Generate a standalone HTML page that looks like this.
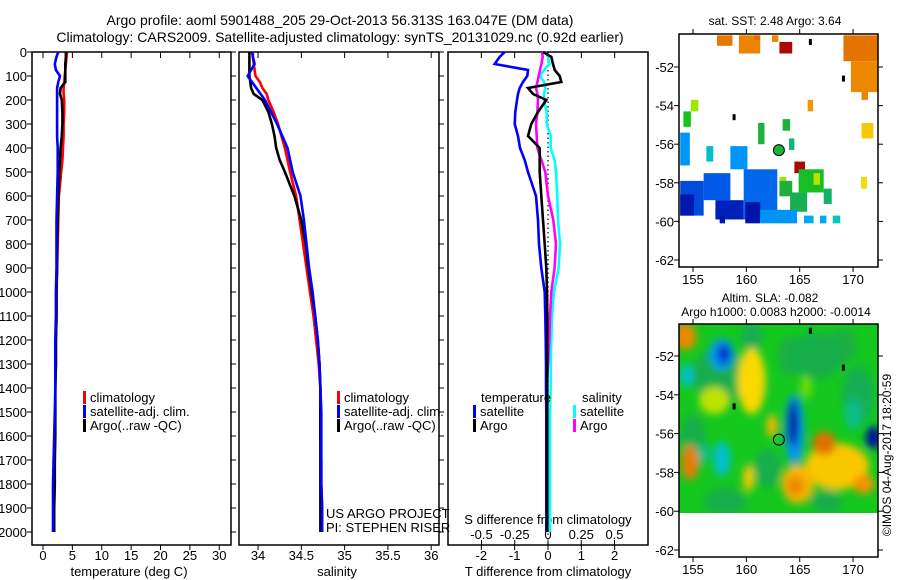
<!DOCTYPE html>
<html><head><meta charset="utf-8"><style>
body{margin:0;background:#fff;}
svg{display:block;font-family:"Liberation Sans",sans-serif;}
text{fill:#000;}
</style></head><body>
<svg id="fig" width="900" height="580" viewBox="0 0 900 580">
<defs>
<filter id="blur" x="-50%" y="-50%" width="200%" height="200%"><feGaussianBlur stdDeviation="4"/></filter>
<clipPath id="slaClip"><rect x="679" y="324" width="199" height="189"/></clipPath>
</defs>
<text x="340" y="25" text-anchor="middle" font-size="14">Argo profile: aoml 5901488_205 29-Oct-2013 56.313S 163.047E (DM data)</text>
<text x="340" y="42" text-anchor="middle" font-size="14">Climatology: CARS2009. Satellite-adjusted climatology: synTS_20131029.nc (0.92d earlier)</text>
<text x="775" y="25" text-anchor="middle" font-size="12">sat. SST: 2.48 Argo: 3.64</text>
<text x="770" y="302" text-anchor="middle" font-size="12">Altim. SLA: -0.082</text>
<text x="776" y="316" text-anchor="middle" font-size="12">Argo h1000: 0.0083 h2000: -0.0014</text>
<text transform="translate(891,455) rotate(-90)" text-anchor="middle" font-size="12">©IMOS 04-Aug-2017 18:20:59</text>
<g id="g"></g>
</svg>
<script>
const depths=[0,20,50,75,100,125,150,175,200,250,300,350,400,450,500,600,700,800,900,1000,1100,1200,1300,1400,1500,1600,1700,1800,1900,2000];
const climT=[4.1,4.0,3.9,3.8,3.7,3.6,3.5,3.5,3.6,3.6,3.5,3.5,3.4,3.3,3.1,2.7,2.6,2.5,2.4,2.3,2.3,2.2,2.2,2.1,2.1,2.0,2.0,1.9,1.8,1.8];
const satT=[2.6,2.3,2.0,2.2,2.9,2.6,2.4,2.4,2.4,2.4,2.4,2.4,2.5,2.5,2.5,2.4,2.3,2.3,2.3,2.2,2.2,2.1,2.1,2.1,2.0,1.9,1.8,1.7,1.7,1.7];
const argoT=[3.9,3.9,3.8,3.8,3.8,3.8,3.0,2.9,3.2,3.3,3.3,3.2,3.0,2.9,2.8,2.6,2.5,2.4,2.4,2.3,2.3,2.2,2.2,2.1,2.1,2.1,2.0,2.0,1.9,1.9];
const climS=[33.94,33.94,33.95,33.96,33.97,34.02,34.05,34.1,34.12,34.18,34.23,34.27,34.31,34.34,34.37,34.44,34.48,34.52,34.56,34.6,34.64,34.67,34.7,34.72,34.72,34.72,34.73,34.73,34.74,34.74];
const satS=[33.93,33.94,33.96,33.92,33.88,33.93,33.98,34.03,34.08,34.15,34.22,34.28,34.34,34.37,34.4,34.49,34.53,34.56,34.59,34.63,34.66,34.69,34.71,34.72,34.73,34.73,34.73,34.73,34.74,34.74];
const argoS=[33.9,33.9,33.9,33.9,33.9,33.91,33.92,33.95,34.05,34.12,34.16,34.19,34.21,34.25,34.31,34.42,34.5,34.55,34.58,34.62,34.66,34.69,34.71,34.72,34.72,34.72,34.72,34.72,34.72,34.72];
const dSatT=[-1.3,-1.45,-1.6,-0.6,-0.62,-0.75,-0.85,-0.9,-0.93,-0.98,-1.0,-0.9,-0.84,-0.7,-0.6,-0.36,-0.3,-0.27,-0.2,-0.1,-0.08,-0.07,-0.06,-0.06,-0.05,-0.05,-0.05,-0.05,-0.05,-0.05];
const dArgoT=[-0.15,0.1,0.15,0.2,0.35,0.4,-0.6,-0.45,-0.05,-0.3,-0.5,-0.6,-0.25,-0.25,-0.25,-0.2,-0.15,-0.1,-0.05,-0.03,-0.02,-0.02,-0.02,-0.02,-0.02,-0.02,-0.02,-0.02,-0.02,-0.02];
const dSatS=[-0.02,0.0,0.01,-0.03,-0.06,-0.03,-0.02,-0.03,-0.03,-0.01,-0.01,0.02,0.02,0.05,0.06,0.07,0.075,0.09,0.08,0.045,0.03,0.025,0.02,0.02,0.015,0.015,0.015,0.015,0.015,0.015];
const dArgoS=[-0.045,-0.04,-0.05,-0.06,-0.07,-0.08,-0.09,-0.08,-0.075,-0.08,-0.09,-0.085,-0.08,-0.05,-0.02,0.0,0.04,0.06,0.05,0.025,0.015,0.01,0.0,-0.01,-0.01,-0.01,-0.01,-0.01,-0.01,-0.005];
const depthTicks=[0,100,200,300,400,500,600,700,800,900,1000,1100,1200,1300,1400,1500,1600,1700,1800,1900,2000];
const tempTicks=[0,5,10,15,20,25,30];
const salTicks=[34,34.5,35,35.5,36];
const salTickLabels=["34","34.5","35","35.5","36"];
const dTTicks=[-2,-1,0,1,2];
const dSTicks=[-0.5,-0.25,0,0.25,0.5];
const dSTickLabels=["-0.5","-0.25","0","0.25","0.5"];
const lonTicks=[155,160,165,170];
const latTicks=[-52,-54,-56,-58,-60,-62];
const sstCells=[
[157.25,158.7,-50.36,-50.9,8.6],[159.3,161.3,-50.36,-51.3,8.4],[160.7,161.3,-50.36,-50.6,8.8],[162.4,163.0,-50.36,-50.7,8.3],
[163.1,164.3,-50.7,-51.3,10],[169.1,172.3,-50.36,-51.7,8.7],[169.8,172.3,-51.7,-53.3,8.3],[170.8,171.4,-53.3,-53.7,8.4],
[165.75,166.25,-53.7,-54.3,8.0],[154.8,155.5,-53.7,-54.3,6.3],[154.1,154.8,-54.3,-55.1,5.4],[161.1,161.7,-54.9,-56.0,5.0],
[163.4,164.1,-54.7,-55.3,5.0],[164.0,164.5,-55.7,-56.3,4.4],[153.8,154.7,-55.4,-57.1,3.0],[156.25,156.9,-56.1,-56.9,3.8],
[158.5,160.1,-56.1,-57.3,3.0],[164.5,165.5,-56.9,-57.5,10],[164.9,167.25,-57.3,-58.5,5.3],[166.3,166.9,-57.5,-58.1,6.5],
[163.1,163.75,-57.7,-58.1,6.3],[170.75,171.3,-57.7,-58.3,6.9],[170.8,171.9,-54.9,-55.7,7.3],[167.25,168.0,-58.3,-59.1,4.5],
[163.1,164.3,-57.9,-58.7,5.0],[164.1,165.7,-58.5,-59.5,4.7],[153.8,156.0,-57.9,-59.7,2.0],[153.8,155.1,-58.6,-59.7,1.1],
[156.0,158.5,-57.5,-58.9,2.2],[157.1,159.75,-58.9,-59.9,1.3],[159.75,162.9,-57.3,-59.9,2.4],[159.9,161.3,-59.0,-60.1,1.0],
[161.3,164.75,-59.4,-60.1,3.0],[165.4,166.3,-59.7,-60.1,3.3],[166.9,167.5,-59.7,-60.1,3.3],[168.1,168.8,-59.7,-60.1,4.0],
[157.5,158.0,-59.7,-60.1,1.0]];
const argoLon=163.05, argoLat=-56.31, argoSST=5.0;
const slaBlobs=[
[157.5,-53.0,2.5,1.5,-0.1],[155.0,-56.5,1.2,1.5,-0.1],[166.5,-52.0,2.5,1.2,-0.1],[170.5,-54.0,1.5,1.5,-0.12],
[162.0,-57.8,1.3,1.0,-0.1],[158.0,-59.5,2.0,0.7,-0.1],[167.5,-59.5,1.5,0.6,-0.1],[164.0,-52.0,1.0,1.0,-0.08],
[160.5,-51.0,1.0,0.8,-0.12],[169.0,-51.5,1.3,0.9,-0.08],
[154.3,-51.0,1.0,0.7,0.6],[157.7,-51.9,1.1,0.8,-0.45],[157.9,-51.9,0.6,0.5,-0.75],[154.4,-53.0,0.6,0.6,-0.3],
[160.5,-53.3,1.3,1.7,0.35],[157.0,-54.3,1.4,0.7,0.25],[162.4,-55.6,0.5,0.6,0.45],[164.5,-55.8,0.9,1.8,-0.45],
[164.4,-55.5,0.5,1.2,-0.9],[157.7,-57.3,0.8,0.9,-0.3],[156.0,-57.0,0.6,0.5,-0.2],[168.5,-57.7,3.0,1.2,0.4],
[167.3,-56.5,1.1,0.6,0.7],[154.7,-57.5,0.8,0.9,0.65],[164.8,-58.6,1.5,1.0,0.45],[164.6,-58.7,0.8,0.5,0.6],
[160.2,-58.3,0.5,0.7,0.4],[171.9,-56.2,0.7,0.6,-0.9],[170.0,-55.0,0.8,0.8,-0.2],[171.0,-58.6,1.0,0.5,0.55],
[165.6,-53.6,0.5,0.6,0.15]];

const NS="http://www.w3.org/2000/svg";
const G=document.getElementById('g');
function el(tag,attrs,parent){const e=document.createElementNS(NS,tag);for(const k in attrs)e.setAttribute(k,attrs[k]);(parent||G).appendChild(e);return e;}
function txt(x,y,s,size,anchor,parent){const t=el('text',{x:x,y:y,'font-size':size,'text-anchor':anchor||'start'},parent);t.textContent=s;return t;}

const PT=52,PB=545;
const yD=d=>52+d*0.24;
const panels=[
 {x0:32,x1:231,v0:-1.874,v1:32.0,name:'temperature-panel'},
 {x0:239,x1:439,v0:33.78,v1:36.09,name:'salinity-panel'},
 {x0:448,x1:648,v0:-3.0,v1:3.0,name:'difference-panel'}];
function sx(p,v){return p.x0+(v-p.v0)/(p.v1-p.v0)*(p.x1-p.x0);}
const pT=panels[0],pS=panels[1],pD=panels[2];
const xS2=v=>548+v*133;

panels.forEach(p=>{
 const r=el('rect',{x:p.x0,y:PT,width:p.x1-p.x0,height:PB-PT,fill:'none',stroke:'#000','stroke-width':1.5});
 
 
});
depthTicks.forEach(d=>{
 const y=yD(d);
 el('line',{x1:27,x2:32,y1:y,y2:y,stroke:'#000','stroke-width':1});
 const t=txt(27,y+5,String(d),13,'end');
 
 
 el('line',{x1:231,x2:236,y1:y,y2:y,stroke:'#000','stroke-width':1});
 el('line',{x1:439,x2:444,y1:y,y2:y,stroke:'#000','stroke-width':1});
});
function xticks(p,ticks,labels){
 ticks.forEach((v,i)=>{const x=sx(p,v);
  el('line',{x1:x,x2:x,y1:PT,y2:PT+6,stroke:'#000'});
  el('line',{x1:x,x2:x,y1:PB,y2:PB+5,stroke:'#000'});
  const t=txt(x,560,labels?labels[i]:String(v),13,'middle');
  
  
 });
}
xticks(pT,tempTicks);
xticks(pS,salTicks,salTickLabels);
xticks(pD,dTTicks);
let t;
t=txt(129,576,'temperature (deg C)',13,'middle');
t=txt(337,576,'salinity',13,'middle');
t=txt(548,576,'T difference from climatology',13,'middle');
t=txt(548,524,'S difference from climatology',13,'middle');
dSTicks.forEach((v,i)=>{const x=xS2(v);
 el('line',{x1:x,x2:x,y1:540,y2:545,stroke:'#000'});
 const tt=txt(x,539,dSTickLabels[i],13,'middle');
 
 
});
el('line',{x1:548,x2:548,y1:PT,y2:PB,stroke:'#000','stroke-dasharray':'1.5,3','stroke-width':1.2});

function line(vals,xf,color,name){
 const pts=vals.map((v,i)=>xf(v).toFixed(1)+','+yD(depths[i]).toFixed(1)).join(' ');
 const pl=el('polyline',{points:pts,fill:'none',stroke:color,'stroke-width':2.6,'stroke-linejoin':'miter'});
 
 
}
line(climT,v=>sx(pT,v),'#f00','temperature-climatology-line');
line(argoT,v=>sx(pT,v),'#000','temperature-argo-line');
line(satT,v=>sx(pT,v),'#00f','temperature-satellite-line');
line(climS,v=>sx(pS,v),'#f00','salinity-climatology-line');
line(argoS,v=>sx(pS,v),'#000','salinity-argo-line');
line(satS,v=>sx(pS,v),'#00f','salinity-satellite-line');
line(dSatS,xS2,'#0ff','s-diff-satellite-line');
line(dArgoS,xS2,'#f0f','s-diff-argo-line');
line(dSatT,v=>sx(pD,v),'#00f','t-diff-satellite-line');
line(dArgoT,v=>sx(pD,v),'#000','t-diff-argo-line');

function legend(x,y,color,label,name){
 el('rect',{x:x,y:y-11,width:3,height:13,fill:color});
 const tt=txt(x+7,y,label,13,'start');
 
 
}
legend(83,402,'#f00','climatology','legend-climatology');
legend(83,416,'#00f','satellite-adj. clim.','legend-satellite-adj');
legend(83,430,'#000','Argo(..raw -QC)','legend-argo');
legend(337,402,'#f00','climatology','legend-climatology-2');
legend(337,416,'#00f','satellite-adj. clim.','legend-satellite-adj-2');
legend(337,430,'#000','Argo(..raw -QC)','legend-argo-2');
t=txt(481,402,'temperature',13);
t=txt(582,402,'salinity',13);
legend(473,416,'#00f','satellite','legend-t-satellite');
legend(473,430,'#000','Argo','legend-t-argo');
legend(573,416,'#0ff','satellite','legend-s-satellite');
legend(573,430,'#f0f','Argo','legend-s-argo');
t=txt(326,518,'US ARGO PROJECT',13);
t=txt(326,532,'PI: STEPHEN RISER',13);

function jet(v){
 const stops=[[0.5,[0,0,140]],[1.5,[0,40,200]],[2.5,[0,110,240]],[3.3,[0,170,250]],[4.0,[0,200,190]],[4.6,[20,175,90]],[5.0,[30,175,60]],[5.5,[20,200,20]],[6.3,[160,230,0]],[7.0,[250,220,0]],[8.0,[245,150,0]],[8.8,[225,110,0]],[10,[170,10,0]]];
 if(v<=stops[0][0])return 'rgb('+stops[0][1]+')';
 for(let i=1;i<stops.length;i++){if(v<=stops[i][0]){const a=stops[i-1],b=stops[i],f=(v-a[0])/(b[0]-a[0]);return 'rgb('+a[1].map((c,k)=>Math.round(c+(b[1][k]-c)*f)).join(',')+')';}}
 return 'rgb('+stops[stops.length-1][1]+')';
}
function mapAxes(m,name){
 const r=el('rect',{x:m.x0,y:m.y0,width:m.x1-m.x0,height:m.y1-m.y0,fill:'none',stroke:'#000','stroke-width':1.5});
 
 
 lonTicks.forEach(lo=>{const x=m.lx(lo);
  el('line',{x1:x,x2:x,y1:m.y0-5,y2:m.y0,stroke:'#000'});
  el('line',{x1:x,x2:x,y1:m.y1,y2:m.y1+5,stroke:'#000'});
  const tt=txt(x,m.y1+17,String(lo),13,'middle');
  
  
 });
 latTicks.forEach(la=>{const y=m.ly(la);
  el('line',{x1:m.x0-5,x2:m.x0,y1:y,y2:y,stroke:'#000'});
  el('line',{x1:m.x1,x2:m.x1+5,y1:y,y2:y,stroke:'#000'});
  const tt=txt(m.x0-5,y+5,String(la),13,'end');
  
  
 });
}
const m1={x0:679,x1:878,y0:34,y1:267,lx:lo=>693+(lo-155)*10.67,ly:la=>67+(-52-la)*19.3};
const m2={x0:679,x1:878,y0:324,y1:557,lx:lo=>693+(lo-155)*10.67,ly:la=>356+(-52-la)*19.4};
sstCells.forEach(c=>{
 const x=m1.lx(c[0]),x2=m1.lx(c[1]),y=m1.ly(c[2]),y2=m1.ly(c[3]);
 const r=el('rect',{x:x,y:y,width:x2-x,height:y2-y,fill:jet(c[4])});
 
 
});
let c1=el('circle',{cx:m1.lx(argoLon),cy:m1.ly(argoLat),r:5.5,fill:jet(argoSST),stroke:'#000','stroke-width':1});


mapAxes(m1,'sst-map');

function slaColor(v){return jet(5.3+v*5);}
const slaG=el('g',{'clip-path':'url(#slaClip)'});
el('rect',{x:679,y:324,width:199,height:189,fill:'rgb(20,200,30)'},slaG);
const bl=el('g',{filter:'url(#blur)'},slaG);
slaBlobs.slice().sort((a,b)=>Math.abs(a[4])-Math.abs(b[4])).forEach(b=>{
 const cx=m2.lx(b[0]),cy=m2.ly(b[1]);
 const e=el('ellipse',{cx:cx,cy:cy,rx:b[2]*10.67,ry:b[3]*19.4,fill:slaColor(b[4])},bl);
 
 
});
let c2=el('circle',{cx:m2.lx(argoLon),cy:m2.ly(argoLat),r:5.5,fill:'none',stroke:'#000','stroke-width':1});


mapAxes(m2,'sla-map');
[[m1,166,-50.7],[m1,169.1,-52.6],[m1,158.85,-54.6],[m2,166,-50.7],[m2,169.1,-52.6],[m2,158.85,-54.6]].forEach(a=>{
 const r=el('rect',{x:a[0].lx(a[1])-1.5,y:a[0].ly(a[2])-3,width:3,height:6,fill:'#000'});
 
 
});
</script>
</body></html>
